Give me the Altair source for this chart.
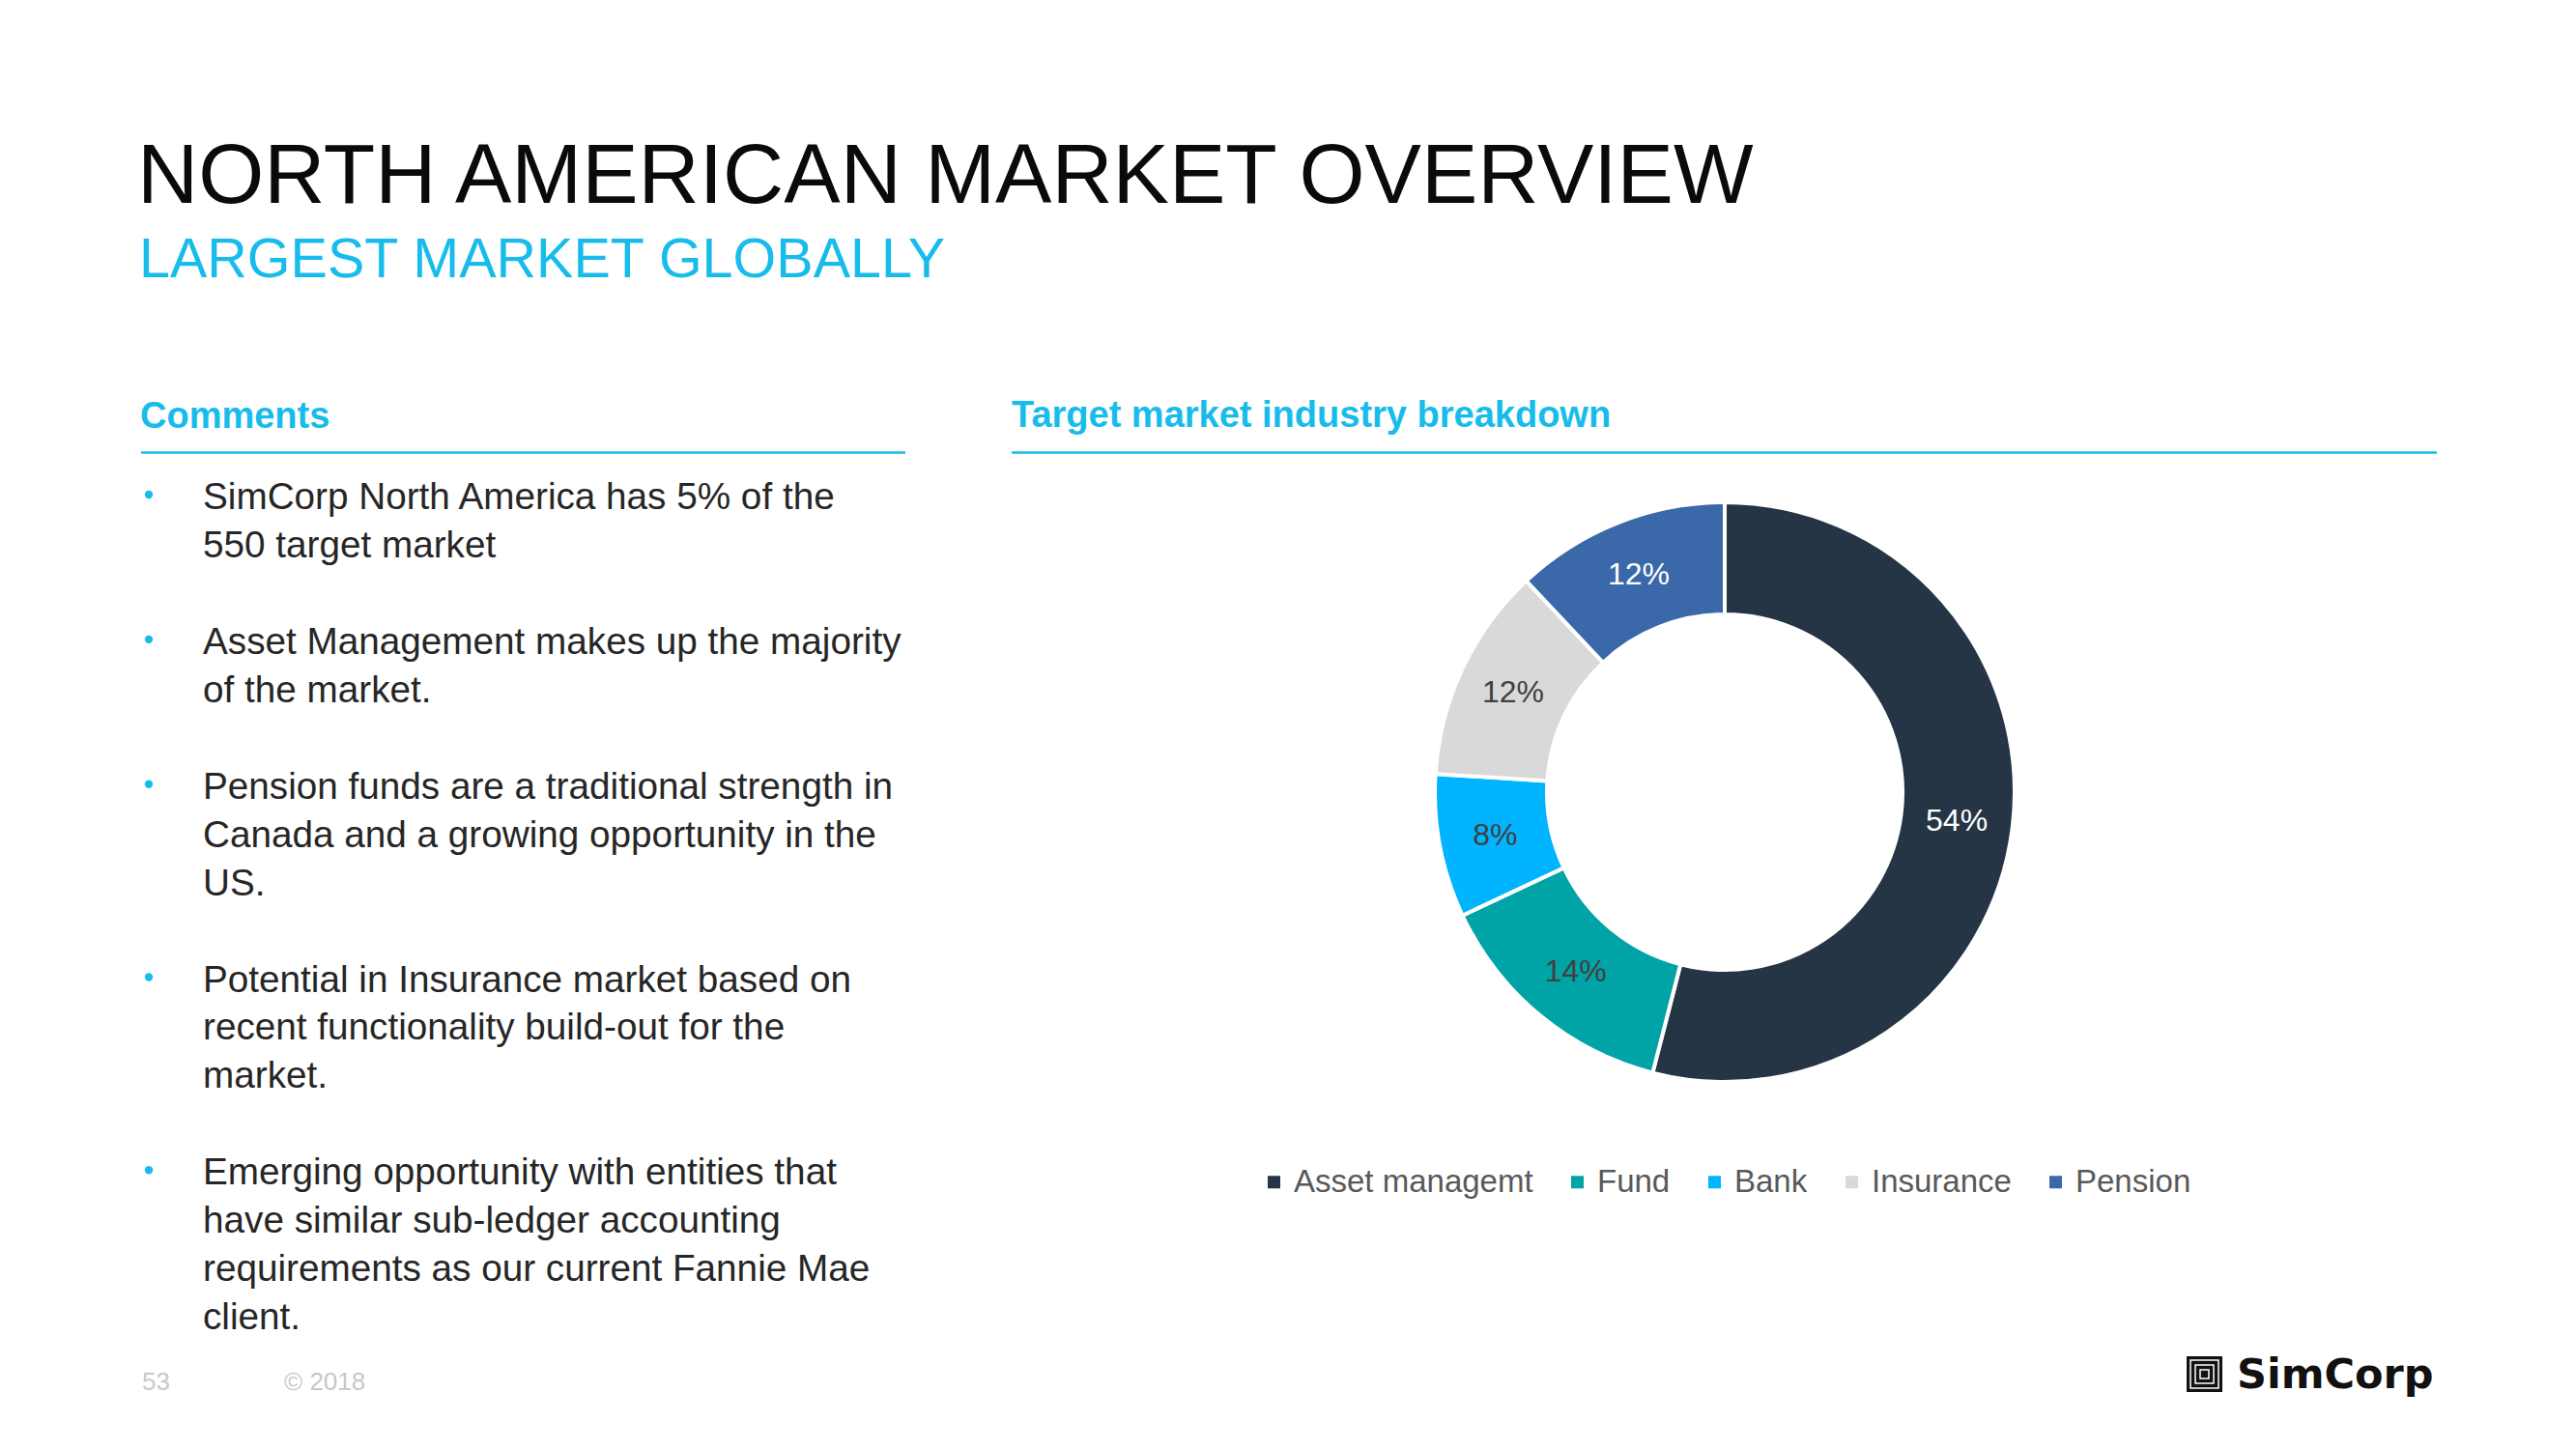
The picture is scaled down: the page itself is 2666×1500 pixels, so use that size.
import altair as alt
import pandas as pd

# ---------------- data ----------------
title_text = "NORTH AMERICAN MARKET OVERVIEW"
subtitle_text = "LARGEST MARKET GLOBALLY"
left_heading = "Comments"
right_heading = "Target market industry breakdown"
bullet_paragraphs = [
    ["SimCorp North America has 5% of the", "550 target market"],
    ["Asset Management makes up the majority", "of the market."],
    ["Pension funds are a traditional strength in",
     "Canada and a growing opportunity in the", "US."],
    ["Potential in Insurance market based on",
     "recent functionality build-out for the", "market."],
    ["Emerging opportunity with entities that",
     "have similar sub-ledger accounting",
     "requirements as our current Fannie Mae", "client."],
]
categories = ["Asset managemt", "Fund", "Bank", "Insurance", "Pension"]
shares = [54, 14, 8, 12, 12]
slice_colors = ["#253545", "#00A3A6", "#00B4FF", "#D9D9D9", "#3A68A8"]
label_colors = ["#FFFFFF", "#404040", "#404040", "#404040", "#FFFFFF"]
page_number = "53"
copyright_text = "© 2018"
logo_text = "SimCorp"

# ---------------- styling ----------------
FONT = "Liberation Sans"
CYAN = "#17BCEB"
BODY = "#262626"


def label(txt, x, y, size, color, weight="normal", font=FONT, align="left"):
    return alt.Chart(pd.DataFrame({"t": [txt]})).mark_text(
        align=align, baseline="alphabetic", font=font, fontSize=size,
        fontWeight=weight, color=color
    ).encode(x=alt.value(x), y=alt.value(y), text="t:N")


def hrule(x1, x2, y, color=CYAN, width=2.5):
    return alt.Chart(pd.DataFrame({"a": [0]})).mark_rule(
        color=color, strokeWidth=width
    ).encode(x=alt.value(x1), x2=alt.value(x2), y=alt.value(y))


layers = []

# Titles
layers.append(label(title_text, 134, 202, 87.5, "#0A0A0A"))
layers.append(label(subtitle_text, 136, 279, 57.5, CYAN))

# Section headings and rules
layers.append(label(left_heading, 137, 435, 38, CYAN, weight="bold"))
layers.append(label(right_heading, 1039, 434, 38, CYAN, weight="bold"))
layers.append(hrule(138, 929, 460.5))
layers.append(hrule(1039, 2514, 460.5))

# Bullet text
rows, dots = [], []
k = 0
for para in bullet_paragraphs:
    for j, line in enumerate(para):
        yb = 519 + 49.95 * k
        rows.append({"line": line, "y": yb})
        if j == 0:
            dots.append({"y": yb - 15})
        k += 1
    k += 1
df_lines = pd.DataFrame(rows)
df_dots = pd.DataFrame(dots)

layers.append(
    alt.Chart(df_lines).mark_text(
        align="left", baseline="alphabetic", font=FONT, fontSize=38.7, color=BODY
    ).encode(x=alt.value(202), y=alt.Y("y:Q", scale=None, axis=None), text="line:N")
)
layers.append(
    alt.Chart(df_dots).mark_circle(size=70, color=CYAN, opacity=1).encode(
        x=alt.value(146), y=alt.Y("y:Q", scale=None, axis=None)
    )
)

# Donut
df_pie = pd.DataFrame({
    "category": categories,
    "share": shares,
    "idx": list(range(len(categories))),
    "pct": [f"{s}%" for s in shares],
    "tcolor": label_colors,
})
CX, CY = 1777, 812

arc = alt.Chart(df_pie).mark_arc(
    outerRadius=300, innerRadius=184, stroke="white", strokeWidth=4
).encode(
    theta=alt.Theta("share:Q", stack=True),
    color=alt.Color(
        "category:N",
        scale=alt.Scale(domain=categories, range=slice_colors),
        legend=alt.Legend(
            orient="none", legendX=1294, legendY=1199, direction="horizontal",
            title=None, symbolType="square", symbolSize=169, symbolStrokeWidth=0,
            labelFont=FONT, labelFontSize=33, labelColor="#595959",
            labelOffset=4, columnPadding=29, padding=0, labelLimit=600,
        ),
    ),
    order=alt.Order("idx:Q"),
    x=alt.value(CX), y=alt.value(CY),
)
pie_labels = alt.Chart(df_pie).mark_text(
    radius=242, font=FONT, fontSize=32, align="center", baseline="middle"
).encode(
    theta=alt.Theta("share:Q", stack=True),
    order=alt.Order("idx:Q"),
    text="pct:N",
    fill=alt.Fill("tcolor:N", scale=None),
    x=alt.value(CX), y=alt.value(CY),
)
layers.append(arc)
layers.append(pie_labels)

# Footer
layers.append(label(page_number, 139, 1431, 26, "#C8C8C8"))
layers.append(label(copyright_text, 286, 1431, 26, "#C8C8C8"))

# Logo
lx, ly, ls = 2255, 1396, 37
layers.append(
    alt.Chart(pd.DataFrame({"a": [0]})).mark_rect(color="#111111").encode(
        x=alt.value(lx), x2=alt.value(lx + ls), y=alt.value(ly), y2=alt.value(ly + ls)
    )
)
for inset in (4, 9, 14):
    layers.append(
        alt.Chart(pd.DataFrame({"a": [0]})).mark_rect(
            fillOpacity=0, stroke="white", strokeWidth=1.5
        ).encode(
            x=alt.value(lx + inset), x2=alt.value(lx + ls - inset),
            y=alt.value(ly + inset), y2=alt.value(ly + ls - inset)
        )
    )
layers.append(label(logo_text, 2307, 1429, 43, "#111111", weight="bold", font="DejaVu Sans"))

chart = alt.layer(*layers).properties(
    width=2650, height=1480, padding=0,
    autosize=alt.AutoSizeParams(type="none"), background="white",
).configure_view(stroke=None)

chart.save("out.html", embed_options={"renderer": "svg", "actions": False})
